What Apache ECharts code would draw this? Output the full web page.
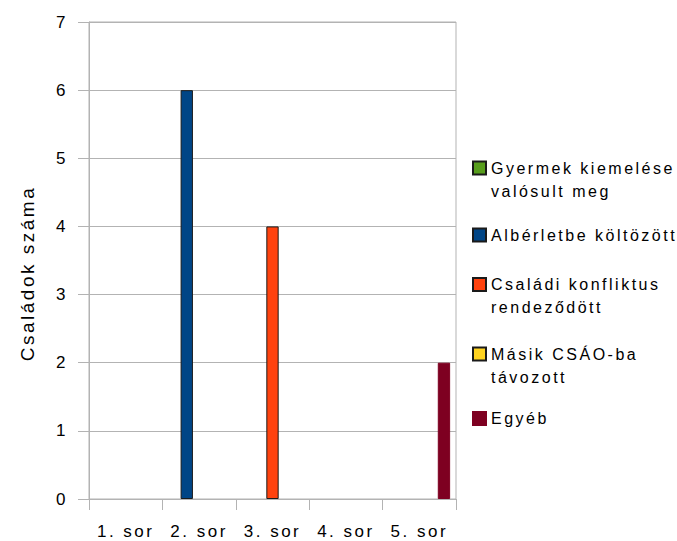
<!DOCTYPE html>
<html>
<head>
<meta charset="utf-8">
<script src="https://cdn.jsdelivr.net/npm/echarts@6/dist/echarts.min.js"></script>
<style>
html,body{margin:0;padding:0;background:#fff}
#c{width:677px;height:541px}
#c svg text{letter-spacing:2.5px}
</style>
</head>
<body>
<div id="c"></div>
<script>
var categories = ['1. sor', '2. sor', '3. sor', '4. sor', '5. sor'];
var seriesNames = ['Gyermek kiemelése\nvalósult meg', 'Albérletbe költözött', 'Családi konfliktus\nrendeződött', 'Másik CSÁO-ba\ntávozott', 'Egyéb'];
var gyermek = [0, 0, 0, 0, 0];
var alberlet = [0, 6, 0, 0, 0];
var konfliktus = [0, 0, 4, 0, 0];
var masik = [0, 0, 0, 0, 0];
var egyeb = [0, 0, 0, 0, 2];
var yTicks = [0, 1, 2, 3, 4, 5, 6, 7];
var colors = ['#579d1c', '#004586', '#ff420e', '#ffd320', '#7e0021'];
var allValues = [gyermek, alberlet, konfliktus, masik, egyeb];

var FONT = 'Liberation Sans, Arial, sans-serif';
var chart = echarts.init(document.getElementById('c'), null, {renderer: 'svg'});

var series = seriesNames.map(function (n, i) {
  return {
    name: n,
    type: 'bar',
    barGap: '0%',
    barCategoryGap: '16%',
    data: allValues[i].map(function (v) { return v === 0 ? null : v; }),
    itemStyle: {
      color: colors[i],
      borderColor: i === 4 ? colors[i] : '#1a1a1a',
      borderWidth: 1
    },
    emphasis: {disabled: true}
  };
});

var LH = 23;
var iconCenters = [168, 235, 284.5, 354, 418.5];
var legends = seriesNames.map(function (n, i) {
  var lines = n.split('\n').length;
  var extra = lines - 1;
  var total = lines + extra;
  return {
    show: true,
    orient: 'vertical',
    left: 472,
    top: iconCenters[i] - total * LH / 2,
    padding: 0,
    itemWidth: 13,
    itemHeight: 13,
    selectedMode: false,
    formatter: function (name) {
      var pre = '';
      for (var k = 0; k < extra; k++) pre += ' \n';
      return pre + name;
    },
    data: [{name: n, icon: 'rect'}],
    textStyle: {fontFamily: FONT, fontSize: 16, color: '#000', lineHeight: LH}
  };
});

chart.setOption({
  animation: false,
  backgroundColor: '#fff',
  color: colors,
  grid: {left: 89, right: 221, top: 22, bottom: 42, show: true, borderColor: '#b3b3b3', borderWidth: 1},
  legend: legends,
  xAxis: {
    type: 'category',
    data: categories,
    axisLine: {lineStyle: {color: '#b3b3b3'}},
    axisTick: {show: true, length: 11, lineStyle: {color: '#b3b3b3'}},
    axisLabel: {color: '#000', fontSize: 17, fontFamily: FONT, margin: 24}
  },
  yAxis: {
    type: 'value',
    min: yTicks[0],
    max: yTicks[yTicks.length - 1],
    interval: 1,
    name: 'Családok száma',
    nameLocation: 'middle',
    nameGap: 52,
    nameTextStyle: {color: '#000', fontSize: 19, fontFamily: FONT, padding: [0, 26, 0, 0]},
    axisLine: {show: true, lineStyle: {color: '#b3b3b3'}},
    axisTick: {show: true, length: 11, lineStyle: {color: '#b3b3b3'}},
    axisLabel: {color: '#000', fontSize: 17, fontFamily: FONT, margin: 21},
    splitLine: {lineStyle: {color: '#b3b3b3'}}
  },
  series: series
});
</script>
</body>
</html>
